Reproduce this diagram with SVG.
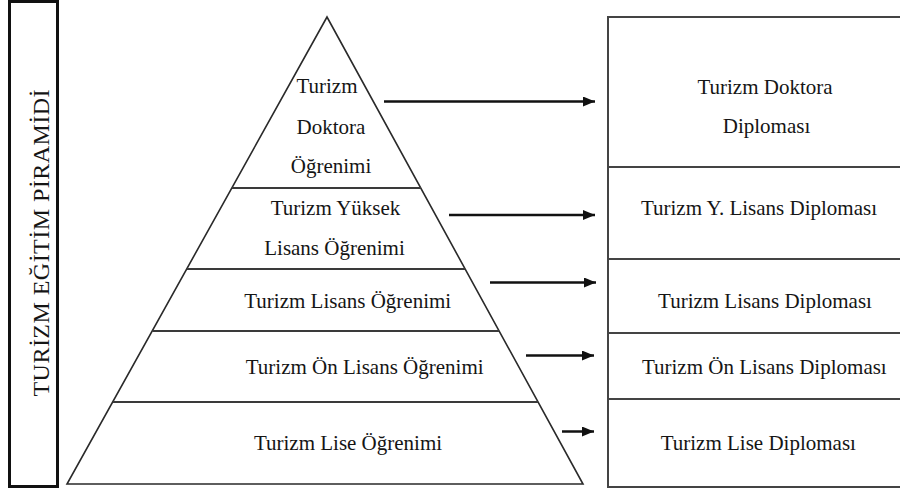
<svg xmlns="http://www.w3.org/2000/svg" width="900" height="490" viewBox="0 0 900 490" font-family="'Liberation Serif', 'Times New Roman', 'DejaVu Serif', serif">
<style>
text{font-family:"Liberation Serif","Times New Roman","DejaVu Serif",serif;font-size:21px;fill:#151515}
.c{text-anchor:middle}
.t{font-size:24px}
.outline{fill:none;stroke:#2a2a2a;stroke-width:1.6}
.div{stroke:#3a3a3a;stroke-width:2}
.box{fill:none;stroke:#444;stroke-width:2}
.arrow{stroke:#111;stroke-width:2.5;fill:none;marker-end:url(#ah)}
</style>
<defs>
<marker id="ah" viewBox="0 0 12 10" refX="12" refY="5" markerWidth="12" markerHeight="10" markerUnits="userSpaceOnUse" orient="auto">
<path d="M0,0 L12,5 L0,10 z" fill="#111"/>
</marker>
</defs>
<rect width="900" height="490" fill="#fff"/>

<g id="title">
<rect x="9.5" y="1.5" width="48" height="485" fill="none" stroke="#111" stroke-width="3"/>
<text class="c t" transform="translate(48.5,243) rotate(-90)" textLength="307" lengthAdjust="spacing">TURİZM EĞİTİM PİRAMİDİ</text>
</g>

<g id="pyramid">
<polygon class="outline" points="327,17 67,484 583,484"/>
</g>

<g id="level-doktora">
<text class="c" x="327" y="93">Turizm</text>
<text class="c" x="331" y="134">Doktora</text>
<text class="c" x="331" y="173">Öğrenimi</text>
<line class="div" x1="232" y1="188" x2="421" y2="188"/>
</g>

<g id="level-yuksek-lisans">
<text class="c" x="335.5" y="215">Turizm Yüksek</text>
<text class="c" x="334.5" y="255">Lisans Öğrenimi</text>
<line class="div" x1="187" y1="269" x2="465" y2="269"/>
</g>

<g id="level-lisans">
<text class="c" x="347.7" y="308">Turizm Lisans Öğrenimi</text>
<line class="div" x1="152.5" y1="331" x2="499" y2="331"/>
</g>

<g id="level-on-lisans">
<text class="c" x="364.7" y="373.5">Turizm Ön Lisans Öğrenimi</text>
<line class="div" x1="113" y1="402" x2="538" y2="402"/>
</g>

<g id="level-lise">
<text class="c" x="348" y="450">Turizm Lise Öğrenimi</text>
</g>

<g id="diplomas-frame">
<rect class="box" x="608" y="17" width="320" height="470"/>
</g>

<g id="dip-doktora">
<text class="c" x="765" y="94">Turizm Doktora</text>
<text class="c" x="766.5" y="133">Diploması</text>
<line class="box" x1="608" y1="167" x2="900" y2="167"/>
</g>

<g id="dip-yuksek-lisans">
<text class="c" x="759" y="215">Turizm Y. Lisans Diploması</text>
<line class="box" x1="608" y1="259" x2="900" y2="259"/>
</g>

<g id="dip-lisans">
<text class="c" x="765" y="308">Turizm Lisans Diploması</text>
<line class="box" x1="608" y1="333" x2="900" y2="333"/>
</g>

<g id="dip-on-lisans">
<text class="c" x="764.3" y="374">Turizm Ön Lisans Diploması</text>
<line class="box" x1="608" y1="399" x2="900" y2="399"/>
</g>

<g id="dip-lise">
<text class="c" x="758.3" y="450">Turizm Lise Diploması</text>
</g>

<g id="connectors">
<line class="arrow" x1="384" y1="101.5" x2="595" y2="101.5"/>
<line class="arrow" x1="449" y1="215" x2="595" y2="215"/>
<line class="arrow" x1="490" y1="282.5" x2="596" y2="282.5"/>
<line class="arrow" x1="526" y1="355.5" x2="594" y2="355.5"/>
<line class="arrow" x1="562" y1="431.5" x2="594" y2="431.5"/>
</g>
</svg>
